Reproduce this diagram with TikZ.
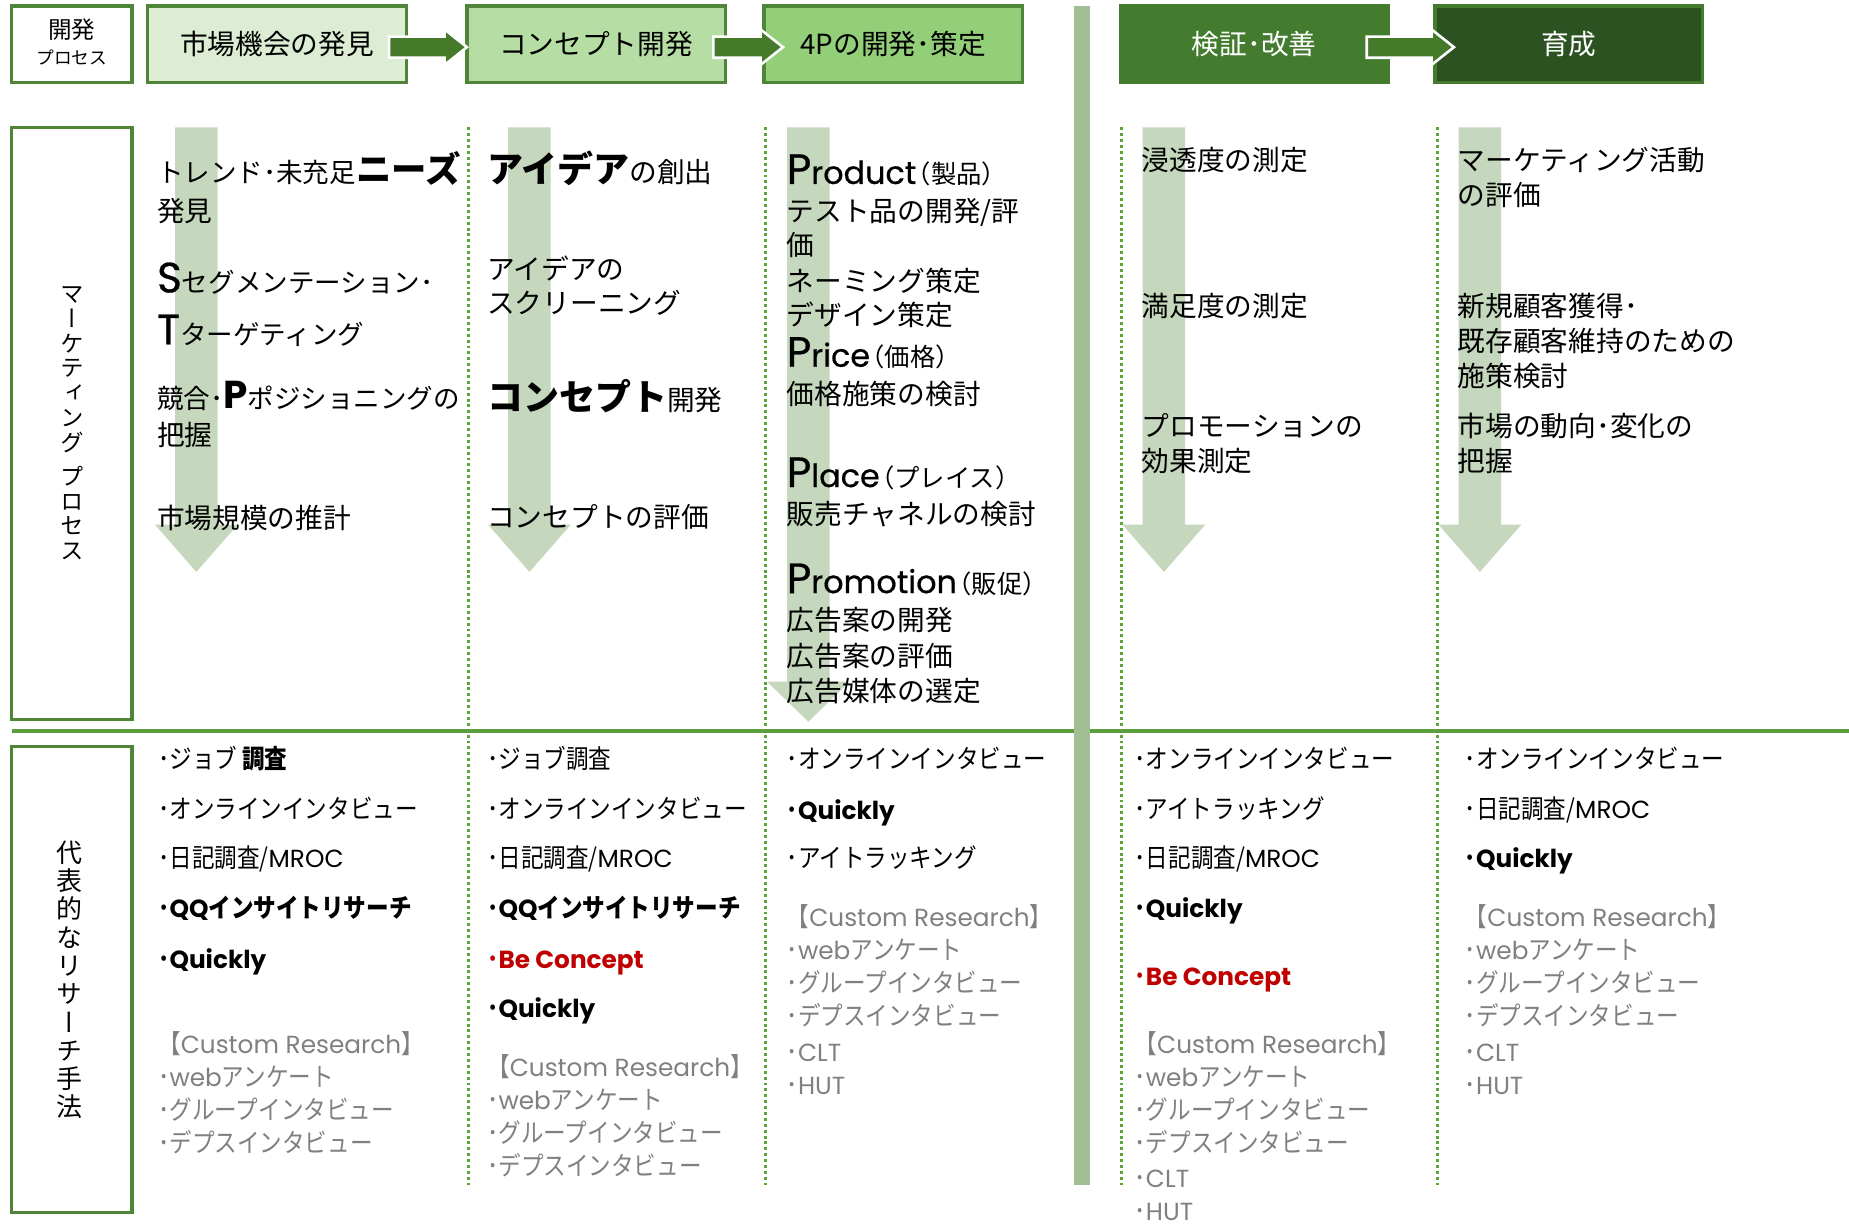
\documentclass[tikz,border=0pt]{standalone}
\usepackage{fontspec}
\setmainfont{Noto Sans CJK JP}
\newfontfamily\pop{Poppins}
\newfontfamily\popm{Poppins}[FakeBold=0.6]
\newfontfamily\cjkn{Noto Sans CJK JP}[FakeStretch=0.87]
\newfontfamily\vjp{Noto Sans CJK JP}[RawFeature=+vert]
\usetikzlibrary{calc}
\definecolor{bgreen}{HTML}{4E8538}
\definecolor{fillA}{HTML}{DCEDD3}
\definecolor{fillB}{HTML}{B6DDA4}
\definecolor{fillC}{HTML}{93CF78}
\definecolor{fillD}{HTML}{437B2F}
\definecolor{fillE}{HTML}{2C5222}
\definecolor{darkarr}{HTML}{467A2B}
\definecolor{lightarr}{HTML}{C5D7BD}
\definecolor{vbarc}{HTML}{A2BE93}
\definecolor{hlinec}{HTML}{5C9E3E}
\definecolor{dotc}{HTML}{5BA63A}
\definecolor{redtxt}{HTML}{C00000}
\definecolor{graytxt}{HTML}{808080}
\newcommand\bigjp[1]{{\bfseries\fontsize{30.5}{30.5}\selectfont #1}}
\newcommand\bigL[1]{{\popm\fontsize{36}{36}\selectfont #1}}
\newcommand\midL[1]{{\popm\fontsize{27}{27}\selectfont #1}}
\newcommand\parjp[1]{\hspace{-9pt}{\fontsize{21.5}{21.5}\selectfont #1}}
\newcommand\lat[1]{{\pop\fontsize{21}{21}\selectfont #1}}
\newcommand\dnarrow[4]{\fill[lightarr] (#1-18,#2) -- (#1+18,#2) -- (#1+18,#3) -- (#1+35,#3) -- (#1,#4) -- (#1-35,#3) -- (#1-18,#3) -- cycle;}
\newcommand\hdrarrow[4]{\path[harrow] ($(#1.east)+(-#3,-6.5)$) -- ($(#2.west)+(#4-19,-6.5)$) -- ($(#2.west)+(#4-19,-12.5)$) -- ($(#2.west)+(#4,2.5)$) -- ($(#2.west)+(#4-19,17.5)$) -- ($(#2.west)+(#4-19,11.5)$) -- ($(#1.east)+(-#3,11.5)$) -- cycle;}
\begin{document}
\begin{tikzpicture}[x=1pt,y=-1pt,
  hbox/.style={draw=bgreen, line width=2.8pt, minimum height=65pt, inner sep=0pt, outer sep=0pt, font=\fontsize{23.5}{27}\selectfont},
  sidebox/.style={draw=bgreen, line width=2.8pt, fill=white, inner sep=0pt, outer sep=0pt},
  harrow/.style={fill=darkarr, draw=white, line width=2.2pt},
  mt/.style={anchor=base west, inner sep=0pt, font=\fontsize{23.5}{27}\selectfont},
  mts/.style={mt, font=\fontsize{22.5}{27}\selectfont},
  bt/.style={anchor=base west, inner sep=0pt, font=\cjkn\fontsize{22}{26}\selectfont},
  btb/.style={bt, font=\cjkn\fontsize{22}{26}\selectfont\bfseries},
  gt/.style={bt, text=graytxt},
  rt/.style={btb, text=redtxt},
  dotline/.style={draw=dotc, line width=2.5pt, dash pattern=on 2.5pt off 2.5pt},
  vtxt/.style={align=center, inner sep=0pt, font=\vjp\fontsize{20}{21}\selectfont}]
\useasboundingbox (0,0) rectangle (1568,1040);
\fill[white] (0,0) rectangle (1568,1040);

% light down arrows
\dnarrow{166.5}{108}{445}{485}
\dnarrow{449}{108}{445}{485}
\dnarrow{685.5}{108}{578}{612}
\dnarrow{987}{108}{445}{485}
\dnarrow{1255}{108}{445}{485}

% dotted column separators
\draw[dotline] (397,108) -- (397,1005);
\draw[dotline] (649,108) -- (649,1005);
\draw[dotline] (951,108) -- (951,1005);
\draw[dotline] (1219,108) -- (1219,1005);

% horizontal separator and vertical bar
\draw[hlinec, line width=3pt] (10,620) -- (1568,620);
\fill[vbarc] (911,5) rectangle (924,1005);

% header boxes
\node[hbox, fill=white, minimum width=102pt] (h0) at (61,37.5) {};
\node[font=\fontsize{20}{20}\selectfont, inner sep=0pt] (h0a) at (61,25) {開発};
\node[font=\fontsize{15}{15}\selectfont, inner sep=0pt] (h0b) at (61,49) {プロセス};
\node[hbox, fill=fillA, minimum width=220pt] (h1) at (235,37.5) {市場機会の発見};
\node[hbox, fill=fillB, minimum width=219pt] (h2) at (505.5,37.5) {コンセプト開発};
\node[hbox, fill=fillC, minimum width=219pt] (h3) at (757.5,37.5) {4Pの開発･策定};
\node[hbox, draw=fillD, fill=fillD, text=white, minimum width=227pt] (h4) at (1063.5,37.5) {検証･改善};
\node[hbox, draw=fillD, fill=fillE, text=white, minimum width=227pt] (h5) at (1330.5,37.5) {育成};
\hdrarrow{h1}{h2}{15}{0}
\hdrarrow{h2}{h3}{10}{16}
\hdrarrow{h4}{h5}{18}{16}

% side boxes
\node[sidebox, minimum width=102pt, minimum height=502pt] (s1) at (61,359) {};
\node[vtxt] (v1) at (61,359) {マ\\ー\\ケ\\テ\\ィ\\ン\\グ\\[8pt]プ\\ロ\\セ\\ス};
\node[sidebox, minimum width=102pt, minimum height=395pt] (s2) at (61,830.5) {};
\node[vtxt, font=\vjp\fontsize{22}{24}\selectfont] (v2) at (59,831) {代\\表\\的\\な\\リ\\サ\\ー\\チ\\手\\法};

% column 1 (market opportunity)
\node[mts] (m1a) at (133,155) {トレンド･未充足{\bfseries\fontsize{30}{30}\selectfont ニーズ}};
\node[mt] (m1b) at (133,188) {発見};
\node[mts] (m1c) at (133,248) {\bigL{S}セグメンテーション･};
\node[mts] (m1d) at (133,292) {\bigL{T}ターゲティング};
\node[mts] (m1e) at (133,346) {競合･{\pop\bfseries\fontsize{33}{33}\selectfont P}ポジショニングの};
\node[mt] (m1f) at (133,378) {把握};
\node[mt] (m1g) at (133,448) {市場規模の推計};

% column 2 (concept)
\node[mt] (m2a) at (413,155) {\bigjp{アイデア}の創出};
\node[mt] (m2b) at (413,237) {アイデアの};
\node[mt] (m2c) at (413,266) {スクリーニング};
\node[mt] (m2d) at (413,348) {\bigjp{コンセプト}開発};
\node[mt] (m2e) at (413,447) {コンセプトの評価};

% column 3 (4P)
\node[mt] (m3a) at (667,156) {\bigL{P}\midL{roduct}\parjp{（製品）}};
\node[mt] (m3b) at (667,188) {テスト品の開発/評};
\node[mt] (m3c) at (667,217) {価};
\node[mt] (m3d) at (667,247) {ネーミング策定};
\node[mt] (m3e) at (667,276) {デザイン策定};
\node[mt] (m3f) at (667,311) {\bigL{P}\midL{rice}\parjp{（価格）}};
\node[mt] (m3g) at (667,343) {価格施策の検討};
\node[mt] (m3h) at (667,413) {\bigL{P}\midL{lace}\parjp{（プレイス）}};
\node[mt] (m3i) at (667,445) {販売チャネルの検討};
\node[mt] (m3j) at (667,503) {\bigL{P}\midL{romotion}\parjp{（販促）}};
\node[mt] (m3k) at (667,535) {広告案の開発};
\node[mt] (m3l) at (667,565) {広告案の評価};
\node[mt] (m3m) at (667,595) {広告媒体の選定};

% column 4 (verification)
\node[mt] (m4a) at (968,145) {浸透度の測定};
\node[mt] (m4b) at (968,268) {満足度の測定};
\node[mt] (m4c) at (968,370) {プロモーションの};
\node[mt] (m4d) at (968,400) {効果測定};

% column 5 (growth)
\node[mt] (m5a) at (1236,145) {マーケティング活動};
\node[mt] (m5b) at (1236,174) {の評価};
\node[mt] (m5c) at (1236,268) {新規顧客獲得･};
\node[mt] (m5d) at (1236,298) {既存顧客維持のための};
\node[mt] (m5e) at (1236,328) {施策検討};
\node[mt] (m5f) at (1236,370) {市場の動向･変化の};
\node[mt] (m5g) at (1236,400) {把握};

% research methods col 1
\node[bt] (b1a) at (134,652) {･ジョブ {\bfseries 調査}};
\node[bt] (b1b) at (134,694) {･オンラインインタビュー};
\node[bt] (b1c) at (134,736) {･日記調査/\lat{MROC}};
\node[btb] (b1d) at (134,778) {･\lat{\bfseries QQ}インサイトリサーチ};
\node[btb] (b1e) at (134,821) {･\lat{\bfseries Quickly}};
\node[gt] (b1f) at (134,893) {【\lat{Custom Research}】};
\node[gt] (b1g) at (134,921) {･\lat{web}アンケート};
\node[gt] (b1h) at (134,949) {･グループインタビュー};
\node[gt] (b1i) at (134,977) {･デプスインタビュー};

% col 2
\node[bt] (b2a) at (413,652) {･ジョブ調査};
\node[bt] (b2b) at (413,694) {･オンラインインタビュー};
\node[bt] (b2c) at (413,736) {･日記調査/\lat{MROC}};
\node[btb] (b2d) at (413,778) {･\lat{\bfseries QQ}インサイトリサーチ};
\node[rt] (b2e) at (413,821) {･\lat{\bfseries Be Concept}};
\node[btb] (b2f) at (413,863) {･\lat{\bfseries Quickly}};
\node[gt] (b2g) at (413,913) {【\lat{Custom Research}】};
\node[gt] (b2h) at (413,941) {･\lat{web}アンケート};
\node[gt] (b2i) at (413,969) {･グループインタビュー};
\node[gt] (b2j) at (413,997) {･デプスインタビュー};

% col 3
\node[bt] (b3a) at (667,652) {･オンラインインタビュー};
\node[btb] (b3b) at (667,695) {･\lat{\bfseries Quickly}};
\node[bt] (b3c) at (667,736) {･アイトラッキング};
\node[gt] (b3d) at (667,786) {【\lat{Custom Research}】};
\node[gt] (b3e) at (667,814) {･\lat{web}アンケート};
\node[gt] (b3f) at (667,842) {･グループインタビュー};
\node[gt] (b3g) at (667,870) {･デプスインタビュー};
\node[gt] (b3h) at (667,900) {･\lat{CLT}};
\node[gt] (b3i) at (667,928) {･\lat{HUT}};

% col 4
\node[bt] (b4a) at (962,652) {･オンラインインタビュー};
\node[bt] (b4b) at (962,694) {･アイトラッキング};
\node[bt] (b4c) at (962,736) {･日記調査/\lat{MROC}};
\node[btb] (b4d) at (962,778) {･\lat{\bfseries Quickly}};
\node[rt] (b4e) at (962,836) {･\lat{\bfseries Be Concept}};
\node[gt] (b4f) at (962,893) {【\lat{Custom Research}】};
\node[gt] (b4g) at (962,921) {･\lat{web}アンケート};
\node[gt] (b4h) at (962,949) {･グループインタビュー};
\node[gt] (b4i) at (962,977) {･デプスインタビュー};
\node[gt] (b4j) at (962,1007) {･\lat{CLT}};
\node[gt] (b4k) at (962,1035) {･\lat{HUT}};

% col 5
\node[bt] (b5a) at (1242,652) {･オンラインインタビュー};
\node[bt] (b5b) at (1242,694) {･日記調査/\lat{MROC}};
\node[btb] (b5c) at (1242,736) {･\lat{\bfseries Quickly}};
\node[gt] (b5d) at (1242,786) {【\lat{Custom Research}】};
\node[gt] (b5e) at (1242,814) {･\lat{web}アンケート};
\node[gt] (b5f) at (1242,842) {･グループインタビュー};
\node[gt] (b5g) at (1242,870) {･デプスインタビュー};
\node[gt] (b5h) at (1242,900) {･\lat{CLT}};
\node[gt] (b5i) at (1242,928) {･\lat{HUT}};
\end{tikzpicture}
\end{document}
